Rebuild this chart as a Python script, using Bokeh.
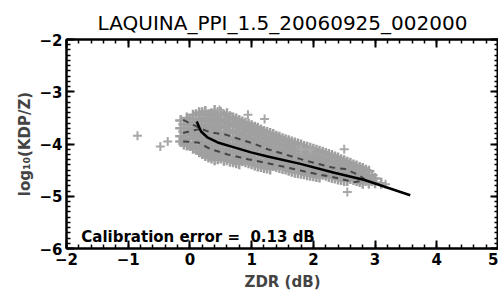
from bokeh.plotting import figure
from bokeh.models import Range1d, LinearAxis, FixedTicker, Label
from bokeh.embed import file_html
from bokeh.resources import INLINE

TITLE = "LAQUINA_PPI_1.5_20060925_002000"
X_LABEL = "ZDR (dB)"
Y_LABEL = "log\u2081\u2080(KDP/Z)"
ANNOT = "Calibration error =\u00a0\u00a00.13 dB"

x_ticks = [-2, -1, 0, 1, 2, 3, 4, 5]
y_ticks = [-6, -5, -4, -3, -2]

# scatter cloud, per ZDR column
cloud = {
    -0.15: [-3.55, -3.7, -3.85, -3.95],
    -0.05: [-3.5, -3.62, -3.78, -3.9, -4.02],
    0.05: [-3.45, -3.58, -3.7, -3.83, -3.97, -4.08],
    0.15: [-3.4, -3.52, -3.66, -3.79, -3.91, -4.04, -4.15],
    0.25: [-3.38, -3.5, -3.63, -3.75, -3.88, -4.0, -4.12, -4.22],
    0.35: [-3.42, -3.55, -3.68, -3.8, -3.93, -4.05, -4.18, -4.27],
    0.45: [-3.4, -3.53, -3.66, -3.79, -3.92, -4.04, -4.16, -4.28],
    0.55: [-3.45, -3.58, -3.7, -3.84, -3.97, -4.1, -4.22, -4.31],
    0.65: [-3.48, -3.6, -3.73, -3.86, -3.99, -4.12, -4.25, -4.33],
    0.75: [-3.52, -3.64, -3.78, -3.9, -4.03, -4.15, -4.27, -4.36],
    0.85: [-3.58, -3.7, -3.83, -3.95, -4.08, -4.2, -4.32],
    0.95: [-3.62, -3.75, -3.88, -4.0, -4.12, -4.24, -4.36],
    1.05: [-3.68, -3.8, -3.92, -4.05, -4.17, -4.29, -4.4],
    1.15: [-3.73, -3.85, -3.97, -4.1, -4.21, -4.33, -4.43],
    1.25: [-3.78, -3.9, -4.02, -4.14, -4.25, -4.37, -4.46],
    1.35: [-3.82, -3.95, -4.07, -4.18, -4.3, -4.41],
    1.45: [-3.87, -3.99, -4.1, -4.22, -4.34, -4.45],
    1.55: [-3.92, -4.03, -4.15, -4.26, -4.38, -4.48],
    1.65: [-3.96, -4.08, -4.19, -4.3, -4.42, -4.52],
    1.75: [-4.0, -4.12, -4.23, -4.34, -4.45, -4.55],
    1.85: [-4.05, -4.16, -4.27, -4.38, -4.49, -4.57],
    1.95: [-4.08, -4.2, -4.31, -4.42, -4.52, -4.6],
    2.05: [-4.12, -4.24, -4.35, -4.46, -4.55, -4.62],
    2.15: [-4.16, -4.28, -4.39, -4.49, -4.58],
    2.25: [-4.2, -4.32, -4.43, -4.53, -4.62],
    2.35: [-4.25, -4.36, -4.47, -4.57, -4.65],
    2.45: [-4.3, -4.4, -4.5, -4.6, -4.68],
    2.55: [-4.35, -4.45, -4.55, -4.64, -4.7],
    2.65: [-4.4, -4.5, -4.6, -4.68],
    2.75: [-4.45, -4.55, -4.65, -4.72],
    2.85: [-4.5, -4.6, -4.7],
    2.95: [-4.6, -4.7],
    3.1: [-4.75],
}
cloud_b = {
    -0.1: [-3.62, -3.76, -3.9, -4.0],
    0.0: [-3.52, -3.64, -3.76, -3.9, -4.03],
    0.1: [-3.44, -3.58, -3.72, -3.85, -3.98, -4.1],
    0.2: [-3.4, -3.56, -3.69, -3.82, -3.95, -4.08, -4.18],
    0.3: [-3.44, -3.57, -3.7, -3.82, -3.94, -4.06, -4.17, -4.25],
    0.4: [-3.36, -3.47, -3.6, -3.73, -3.86, -3.98, -4.11, -4.22, -4.3],
    0.5: [-3.4, -3.52, -3.64, -3.77, -3.9, -4.03, -4.16, -4.27],
    0.6: [-3.42, -3.54, -3.66, -3.79, -3.92, -4.05, -4.18, -4.3],
    0.7: [-3.5, -3.62, -3.75, -3.88, -4.0, -4.13, -4.25, -4.34],
    0.8: [-3.55, -3.67, -3.8, -3.93, -4.05, -4.18, -4.3, -4.38],
    0.9: [-3.6, -3.72, -3.85, -3.97, -4.1, -4.22, -4.34],
    1.0: [-3.65, -3.77, -3.9, -4.02, -4.14, -4.27, -4.38],
    1.1: [-3.7, -3.82, -3.95, -4.07, -4.19, -4.31, -4.42],
    1.2: [-3.76, -3.87, -4.0, -4.12, -4.23, -4.35, -4.45],
    1.3: [-3.8, -3.92, -4.04, -4.16, -4.28, -4.39, -4.48],
    1.4: [-3.85, -3.97, -4.09, -4.2, -4.32, -4.43],
    1.5: [-3.9, -4.01, -4.12, -4.24, -4.36, -4.47],
    1.6: [-3.94, -4.05, -4.17, -4.28, -4.4, -4.5],
    1.7: [-3.98, -4.1, -4.21, -4.32, -4.43, -4.54],
    1.8: [-4.02, -4.14, -4.25, -4.36, -4.47, -4.56],
    1.9: [-4.06, -4.18, -4.29, -4.4, -4.5, -4.59],
    2.0: [-4.1, -4.22, -4.33, -4.44, -4.54, -4.61],
    2.1: [-4.14, -4.26, -4.37, -4.47, -4.56, -4.63],
    2.2: [-4.18, -4.3, -4.41, -4.51, -4.6],
    2.3: [-4.22, -4.34, -4.45, -4.55, -4.64],
    2.4: [-4.27, -4.38, -4.49, -4.59, -4.67],
    2.5: [-4.32, -4.43, -4.53, -4.62, -4.7],
    2.6: [-4.37, -4.47, -4.57, -4.66],
    2.7: [-4.42, -4.52, -4.62, -4.7],
    2.8: [-4.47, -4.57, -4.67, -4.75],
    2.9: [-4.52, -4.64, -4.73],
    3.0: [-4.66, -4.74],
}
outlier_zdr = [-0.85, -0.48, -0.36, 0.48, 0.94, 1.21, 1.8, 1.95, 2.5, 2.55, 2.9, 3.17]
outlier_kdpz = [-3.84, -4.05, -3.95, -3.35, -3.44, -3.52, -4.1, -4.1, -4.1, -4.92, -4.77, -4.77]

fit_zdr = [0.11, 0.18, 0.29, 0.45, 0.73, 0.99, 1.26, 1.79, 2.34, 2.83, 3.57]
fit_kdpz = [-3.57, -3.76, -3.88, -3.97, -4.07, -4.16, -4.24, -4.38, -4.55, -4.69, -4.98]

upper_zdr = [-0.11, 0.05, 0.18, 0.34, 0.58, 0.81, 1.05, 1.26, 1.91, 2.31, 2.52, 2.71, 2.83]
upper_kdpz = [-3.54, -3.63, -3.71, -3.78, -3.82, -3.91, -4.0, -4.1, -4.33, -4.45, -4.48, -4.58, -4.67]

mid_zdr = [-0.11, 0.05, 0.15]
mid_kdpz = [-3.79, -3.74, -3.72]

lower_zdr = [-0.11, 0.13, 0.34, 0.61, 0.94, 1.26, 1.58, 1.95, 2.34, 2.66, 2.83]
lower_kdpz = [-3.95, -3.97, -4.1, -4.2, -4.29, -4.37, -4.45, -4.55, -4.64, -4.73, -4.7]

pts_x = []
pts_y = []
for d in (cloud, cloud_b):
    for cx, ys in d.items():
        for yv in ys:
            pts_x.append(cx)
            pts_y.append(yv)

FONT = "DejaVu Sans"

p = figure(width=498, height=295, output_backend="svg", toolbar_location=None,
           x_range=Range1d(-2, 5), y_range=Range1d(-6, -2),
           min_border_left=66, min_border_right=0, min_border_top=39, min_border_bottom=47)
p.grid.visible = False
p.outline_line_color = "black"
p.outline_line_width = 2

p.title.text = TITLE
p.title.align = "center"
p.title.text_font = FONT
p.title.text_font_size = "20px"
p.title.text_font_style = "normal"
p.title.text_color = "black"
p.title.offset = 12

def style_axis(ax, ticks, minor, show_labels, label=None):
    ax.ticker = FixedTicker(ticks=ticks, minor_ticks=minor)
    ax.major_tick_in = 8
    ax.major_tick_out = 0
    ax.minor_tick_in = 4
    ax.minor_tick_out = 0
    ax.axis_line_width = 2
    ax.major_tick_line_width = 2
    ax.minor_tick_line_width = 1.5
    ax.major_label_text_font = FONT
    ax.major_label_text_font_size = "15px"
    ax.major_label_text_font_style = "bold"
    ax.major_label_text_color = "black"
    if show_labels:
        ax.major_label_overrides = {t: (("\u2212" + str(abs(t))) if t < 0 else str(t)) for t in ticks}
    else:
        ax.major_label_overrides = {t: "" for t in ticks}
        ax.major_label_standoff = 0
    if label is not None:
        ax.axis_label = label
        ax.axis_label_text_font = FONT
        ax.axis_label_text_font_size = "15px"
        ax.axis_label_text_font_style = "bold"
        ax.axis_label_standoff = 5

x_minor = [round(-2 + 0.2 * i, 2) for i in range(36)]
y_minor = [round(-6 + 0.1 * i, 2) for i in range(41)]

style_axis(p.xaxis[0], x_ticks, x_minor, True, X_LABEL)
style_axis(p.yaxis[0], y_ticks, y_minor, True, Y_LABEL)
p.xaxis[0].major_label_standoff = 4
p.yaxis[0].major_label_standoff = 4
p.yaxis[0].axis_label_standoff = 2

top = LinearAxis()
style_axis(top, x_ticks, x_minor, False)
p.add_layout(top, "above")
right = LinearAxis()
style_axis(right, y_ticks, y_minor, False)
p.add_layout(right, "right")

p.scatter(pts_x, pts_y, marker="cross", size=11, line_color="#a0a0a0", line_width=2.5)
p.scatter(outlier_zdr, outlier_kdpz, marker="cross", size=9, line_color="#a8a8a8", line_width=2)

for xs, ys in ((upper_zdr, upper_kdpz), (mid_zdr, mid_kdpz), (lower_zdr, lower_kdpz)):
    p.line(xs, ys, line_color="#454545", line_width=2, line_dash="6 5")

p.line(fit_zdr, fit_kdpz, line_color="black", line_width=2.5)

p.add_layout(Label(x=-1.76, y=-5.95, text=ANNOT, text_font=FONT, text_font_size="15px",
                   text_font_style="bold", text_color="black"))

open("out.html", "w").write(file_html(p, INLINE))
